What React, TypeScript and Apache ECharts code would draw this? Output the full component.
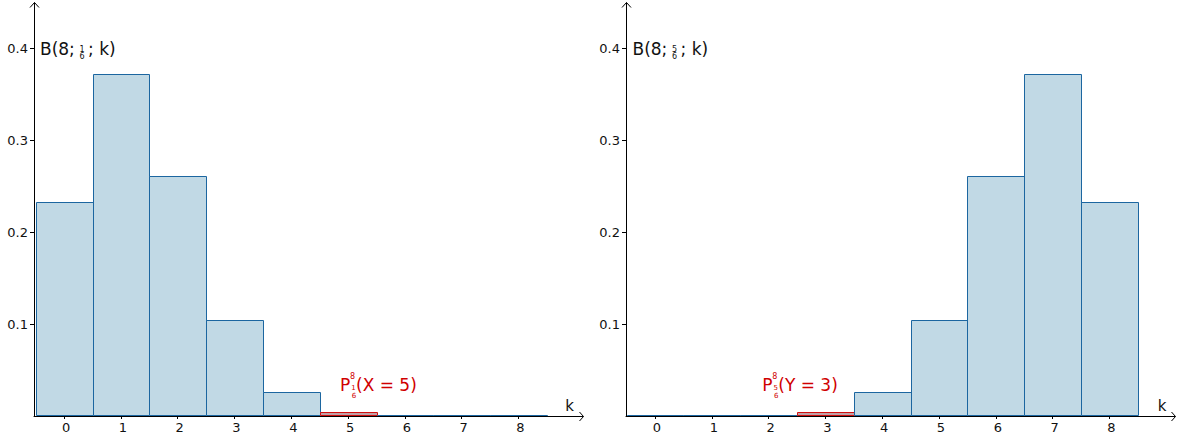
import React, { useEffect, useRef } from "react";
import * as echarts from "echarts";

const kValues = [0, 1, 2, 3, 4, 5, 6, 7, 8];
const probLeft = [0.2326, 0.3721, 0.2605, 0.1042, 0.026, 0.0042, 0.0004, 0.00002, 0.0000006];
const probRight = [0.0000006, 0.00002, 0.0004, 0.0042, 0.026, 0.1042, 0.2605, 0.3721, 0.2326];
const highlightLeft = 5;
const highlightRight = 3;
const yTicks = [0.1, 0.2, 0.3, 0.4];
const yTickLabels = ["0.1", "0.2", "0.3", "0.4"];
const xTickLabels = ["0", "1", "2", "3", "4", "5", "6", "7", "8"];

const FONT = "DejaVu Sans";
const BLUE = "#1c66a0";
const BLUE_FILL = "#c1d9e5";
const RED = "#d01010";
const RED_FILL = "#c0a0a6";
const TEXT_RED = "#d00000";

function buildOption() {
  const grids = [
    { left: 34, top: 3, width: 549, height: 413 },
    { left: 626, top: 3, width: 549, height: 413 },
  ];
  const xMins = [-0.53, -0.51];
  const xAxes = grids.map((g, i) => ({
    type: "value",
    gridIndex: i,
    min: xMins[i],
    max: xMins[i] + g.width / 56.8,
    axisLine: { show: true, onZero: false, lineStyle: { color: "#000", width: 1 } },
    splitLine: { show: false },
    axisTick: { show: true, customValues: kValues, length: 3, lineStyle: { color: "#000" } },
    axisLabel: {
      customValues: kValues,
      margin: 5,
      padding: [0, 0, 0, 4],
      color: "#111",
      fontSize: 13,
      fontFamily: FONT,
      formatter: (v: number) => xTickLabels[Math.round(v)] ?? "",
    },
  }));
  const yAxes = grids.map((_, i) => ({
    type: "value",
    gridIndex: i,
    min: 0,
    max: 0.449,
    axisLine: { show: true, onZero: false, lineStyle: { color: "#000", width: 1 } },
    splitLine: { show: false },
    axisTick: { show: true, customValues: yTicks, length: 4, lineStyle: { color: "#000" } },
    axisLabel: {
      customValues: yTicks,
      margin: 6,
      color: "#111",
      fontSize: 13,
      fontFamily: FONT,
      formatter: (v: number) => {
        const idx = yTicks.findIndex((t) => Math.abs(t - v) < 1e-6);
        return idx >= 0 ? yTickLabels[idx] : "";
      },
    },
  }));

  const makeSeries = (i: number, probs: number[], hl: number) => ({
    type: "custom",
    xAxisIndex: i,
    yAxisIndex: i,
    clip: false,
    data: kValues.map((k, j) => [k, probs[j], k === hl ? 1 : 0]),
    renderItem: (params: any, api: any) => {
      const k = api.value(0);
      const p = api.value(1);
      const h = api.value(2);
      const tl = api.coord([k - 0.5, p]);
      const br = api.coord([k + 0.5, 0]);
      const x0 = Math.round(tl[0]) + 0.5;
      const x1 = Math.round(br[0]) + 0.5;
      const y0 = Math.round(tl[1]) + 0.5;
      const y1 = Math.round(br[1]) - 0.5;
      return {
        type: "rect",
        shape: { x: x0, y: Math.min(y0, y1), width: x1 - x0, height: Math.max(0, y1 - y0) },
        style: {
          fill: h ? RED_FILL : BLUE_FILL,
          stroke: h ? RED : BLUE,
          lineWidth: 1,
        },
      };
    },
  });

  const txt = (text: string, x: number, y: number, size: number, color: string, align = "left") => ({
    type: "text",
    style: {
      text,
      x,
      y,
      fill: color,
      fontSize: size,
      fontFamily: FONT,
      align,
      textAlign: align,
      verticalAlign: "middle",
      textVerticalAlign: "middle",
    },
    z: 10,
  });

  const chevronY = (x: number) => ({
    type: "polyline",
    shape: { points: [[x - 4.5, 7.5], [x, 2.5], [x + 4.5, 7.5]] },
    style: { stroke: "#000", lineWidth: 1, fill: "none" },
    z: 10,
  });
  const chevronX = (x: number) => ({
    type: "polyline",
    shape: { points: [[x - 4, 412], [x, 416.5], [x - 4, 421]] },
    style: { stroke: "#000", lineWidth: 1, fill: "none" },
    z: 10,
  });

  const titleGroup = (dx: number, num: string) => [
    txt("B(8;", 40 + dx, 48.5, 17, "#111"),
    txt(num, 82 + dx, 49, 8, "#111", "center"),
    txt("6", 82 + dx, 56, 8, "#111", "center"),
    txt("; k)", 88 + dx, 48.5, 17, "#111"),
  ];

  const pGroup = (dx: number, num: string, body: string) => [
    txt("P", 340 + dx, 385, 17, TEXT_RED),
    txt("8", 352.5 + dx, 376, 8, TEXT_RED, "center"),
    txt(num, 353.5 + dx, 387.5, 7, TEXT_RED, "center"),
    txt("6", 354 + dx, 396, 7, TEXT_RED, "center"),
    txt(body, 356 + dx, 385, 17, TEXT_RED),
  ];

  return {
    animation: false,
    backgroundColor: "#fff",
    grid: grids,
    xAxis: xAxes,
    yAxis: yAxes,
    series: [makeSeries(0, probLeft, highlightLeft), makeSeries(1, probRight, highlightRight)],
    graphic: [
      chevronY(34.5),
      chevronY(626.5),
      chevronX(583.5),
      chevronX(1175.5),
      txt("k", 569.5, 405.5, 15, "#111", "center"),
      txt("k", 1162, 406, 15, "#111", "center"),
      ...titleGroup(0, "1"),
      ...titleGroup(592.5, "5"),
      ...pGroup(0, "1", "(X = 5)"),
      ...pGroup(422.3, "5", "(Y = 3)"),
    ],
  };
}

export default function App() {
  const ref = useRef<HTMLDivElement>(null);
  useEffect(() => {
    document.body.style.margin = "0";
    if (!ref.current) return;
    const chart = echarts.init(ref.current, undefined, { renderer: "svg" });
    chart.setOption(buildOption() as any);
    return () => chart.dispose();
  }, []);
  return <div ref={ref} style={{ width: 1183, height: 436 }} />;
}
